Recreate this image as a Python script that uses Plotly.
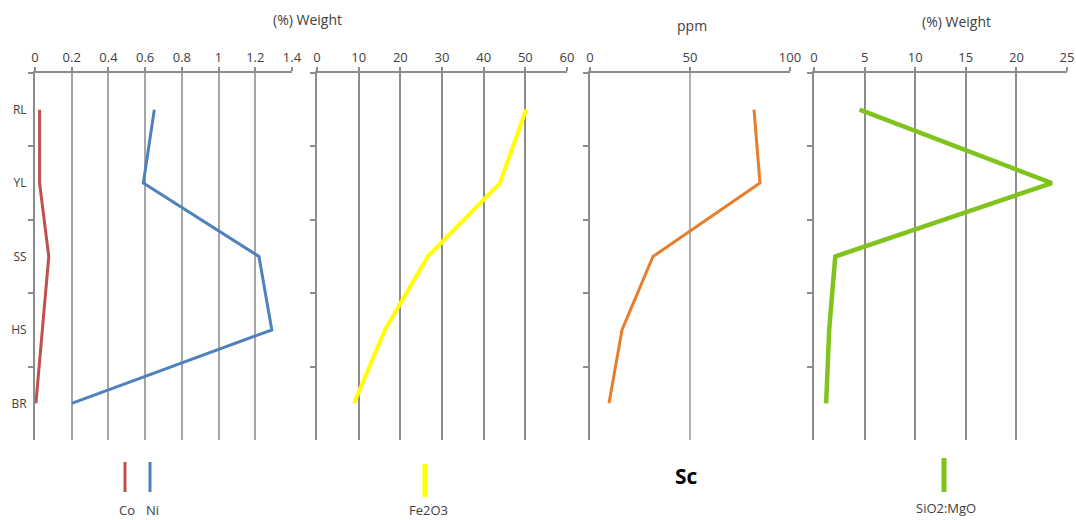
import plotly.graph_objects as go

W, H = 1076, 520

zones = ["RL", "YL", "SS", "HS", "BR"]
co = [0.025, 0.025, 0.075, 0.04, 0.005]
ni = [0.65, 0.59, 1.22, 1.29, 0.2]
fe2o3 = [50.2, 43.9, 26.6, 16.3, 8.9]
sc = [82, 85, 31.5, 16, 9.5]
sio2_mgo = [4.5, 23.5, 2.1, 1.5, 1.2]

x_ranges = [[0, 1.4], [0, 60], [0, 100], [0, 25]]
x_dticks = [0.2, 10, 50, 5]
x_ticktext = [["0", "0.2", "0.4", "0.6", "0.8", "1", "1.2", "1.4"], None, None, None]

def px(x):
    return x / W

def py(y):
    return 1 - y / H

domains_px = [(35, 292), (317, 567), (590, 790), (814, 1067)]
ydom = [py(440), py(73)]

fig = go.Figure()

series = [
    (1, "Co", co, "#c0504d", 3),
    (1, "Ni", ni, "#4f81bd", 3),
    (2, "Fe2O3", fe2o3, "#ffff00", 4),
    (3, "Sc", sc, "#e87d2c", 3),
    (4, "SiO2:MgO", sio2_mgo, "#80c31c", 4.5),
]
for panel, name, vals, color, w in series:
    sfx = "" if panel == 1 else str(panel)
    fig.add_trace(go.Scatter(x=vals, y=zones, mode="lines", name=name,
                             line=dict(color=color, width=w),
                             xaxis="x" + sfx, yaxis="y" + sfx, showlegend=False))

font = dict(family="Open Sans", size=13, color="#404040")
gridcols = ["#a6a6a6", "#8c8c8c", "#b0b0b0", "#8c8c8c"]
gridw = [1.5, 2, 1.5, 2]

for i in range(4):
    sfx = "" if i == 0 else str(i + 1)
    xa = dict(domain=[px(domains_px[i][0]), px(domains_px[i][1])], anchor="y" + sfx,
              side="top", range=x_ranges[i], dtick=x_dticks[i], tick0=0,
              showline=True, linecolor="#8c8c8c", linewidth=2,
              ticks="outside", ticklen=4, tickcolor="#8c8c8c", tickwidth=2,
              showgrid=True, gridcolor=gridcols[i], gridwidth=gridw[i],
              zeroline=False, tickfont=font, fixedrange=True, automargin=False)
    if x_ticktext[i] is not None:
        xa["tickvals"] = [k * 0.2 for k in range(8)]
        xa["ticktext"] = x_ticktext[i]
    ya = dict(domain=ydom, anchor="x" + sfx, type="category", categoryorder="array",
              categoryarray=zones, range=[4.5, -0.5], tickson="boundaries",
              showline=True, linecolor="#8c8c8c", linewidth=2,
              ticks="outside", ticklen=5, tickcolor="#8c8c8c", tickwidth=2,
              showgrid=False, zeroline=False, showticklabels=(i == 0),
              tickfont=dict(family="Open Sans", size=12, color="#404040"),
              ticklabelstandoff=4, fixedrange=True, automargin=False)
    fig.update_layout(**{"xaxis" + sfx: xa, "yaxis" + sfx: ya})

annots = [
    ("(%) Weight", 307, 20, 14, False),
    ("ppm", 692, 25, 14, False),
    ("(%) Weight", 956, 22, 14, False),
    ("Co", 127, 510, 13, False),
    ("Ni", 152, 510, 13, False),
    ("Fe2O3", 428, 510, 13, False),
    ("Sc", 686, 476, 21, True),
    ("SiO2:MgO", 946, 508, 13, False),
]
for text, x, y, size, bold in annots:
    fig.add_annotation(text=("<b>%s</b>" % text) if bold else text,
                       x=px(x), y=py(y), xref="paper", yref="paper",
                       showarrow=False, xanchor="center", yanchor="middle",
                       font=dict(family="Open Sans", size=size,
                                 color="#000000" if bold else "#404040"))

legend_marks = [
    (125, 462, 492, "#c0504d", 3),
    (150, 462, 492, "#4f81bd", 3),
    (425, 464, 497, "#ffff00", 5),
    (944, 458, 492, "#80c31c", 5),
]
for x, y0, y1, color, w in legend_marks:
    fig.add_shape(type="line", xref="paper", yref="paper",
                  x0=px(x), x1=px(x), y0=py(y0), y1=py(y1),
                  line=dict(color=color, width=w))

fig.update_layout(width=W, height=H, margin=dict(l=0, r=0, t=0, b=0),
                  paper_bgcolor="white", plot_bgcolor="white", showlegend=False)

fig.write_html("out.html", config={"displayModeBar": False},
               post_script="document.body.style.margin='0px';")
